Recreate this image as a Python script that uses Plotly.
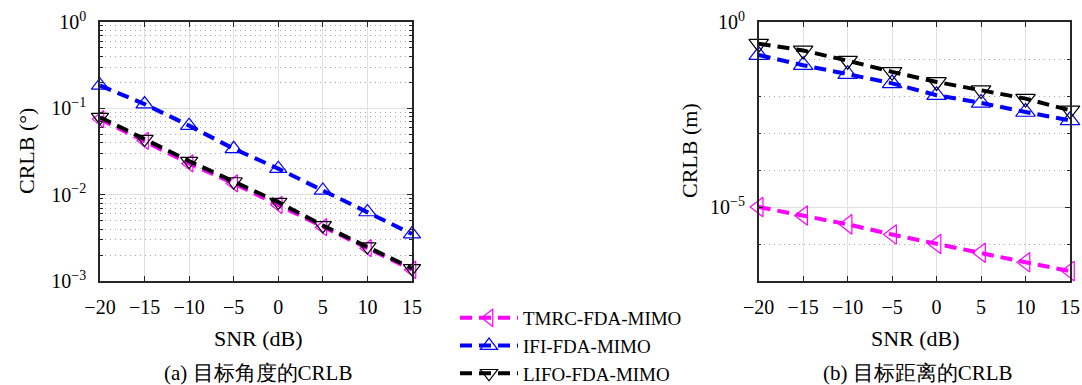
import plotly.graph_objects as go

# ---- data ----
snr = [-20, -15, -10, -5, 0, 5, 10, 15]
series_names = ["TMRC-FDA-MIMO", "IFI-FDA-MIMO", "LIFO-FDA-MIMO"]

# (a) angle CRLB (deg)
angle_tmrc = [0.075, 0.042, 0.023, 0.0135, 0.0076, 0.0042, 0.0024, 0.00135]
angle_ifi = [0.184, 0.112, 0.063, 0.034, 0.020, 0.0112, 0.0063, 0.0035]
angle_lifo = [0.079, 0.044, 0.0245, 0.0142, 0.0082, 0.0044, 0.0025, 0.0014]

# (b) range CRLB (m)
range_tmrc = [1.0e-5, 5.9e-6, 3.4e-6, 1.8e-6, 1.0e-6, 5.8e-7, 3.2e-7, 1.85e-7]
range_ifi = [0.128, 0.068, 0.039, 0.022, 0.0105, 0.0065, 0.0037, 0.0022]
range_lifo = [0.26, 0.17, 0.09, 0.045, 0.024, 0.0144, 0.0085, 0.0041]

x_ticks = [-20, -15, -10, -5, 0, 5, 10, 15]
x_ticktext = ["\u221220", "\u221215", "\u221210", "\u22125", "0", "5", "10", "15"]
ya_ticks = [1e-3, 1e-2, 1e-1, 1e0]
ya_ticktext = ["10<sup>\u22123</sup>", "10<sup>\u22122</sup>", "10<sup>\u22121</sup>", "10<sup>0</sup>"]
yb_ticks = [1e-5, 1e0]
yb_ticktext = ["10<sup>\u22125</sup>", "10<sup>0</sup>"]

colors = ["#FF00FF", "#0000FF", "#000000"]
symbols = ["triangle-left-open", "triangle-up-open", "triangle-down-open"]

FONT = "Liberation Serif, serif"

fig = go.Figure()

for i, (name, ya) in enumerate(zip(series_names, [angle_tmrc, angle_ifi, angle_lifo])):
    fig.add_trace(go.Scatter(
        x=snr, y=ya, name=name, mode="lines+markers",
        line=dict(color=colors[i], width=4, dash="12px,7px"),
        marker=dict(symbol=symbols[i], size=15, color=colors[i], line=dict(width=1.2, color=colors[i])),
        cliponaxis=False, xaxis="x", yaxis="y", showlegend=True,
    ))
for i, (name, yb) in enumerate(zip(series_names, [range_tmrc, range_ifi, range_lifo])):
    fig.add_trace(go.Scatter(
        x=snr, y=yb, name=name, mode="lines+markers",
        line=dict(color=colors[i], width=4, dash="12px,7px"),
        marker=dict(symbol=symbols[i], size=17, color=colors[i], line=dict(width=1.2, color=colors[i])),
        cliponaxis=False, xaxis="x2", yaxis="y2", showlegend=False,
    ))

axis_common = dict(
    showline=True, linecolor="#262626", linewidth=1.5, mirror="ticks",
    ticks="inside", ticklen=5, tickcolor="#262626",
    tickfont=dict(family=FONT, size=20, color="#000000"),
    zeroline=False, automargin=False,
)

minor_grid = dict(showgrid=True, gridcolor="#a8a8a8", griddash="1px,4px", gridwidth=1,
                  ticks="inside", ticklen=3, tickcolor="#262626")

y_dom = [1 - 281 / 385, 1 - 22 / 385]

fig.update_layout(
    template="none",
    width=1082, height=385,
    margin=dict(l=0, r=0, t=0, b=0, pad=0, autoexpand=False),
    paper_bgcolor="white", plot_bgcolor="white",
    font=dict(family=FONT, color="#000000"),
    xaxis=dict(domain=[100 / 1082, 412 / 1082], range=[-20, 15],
               tickmode="array", tickvals=x_ticks, ticktext=x_ticktext,
               showgrid=True, gridcolor="#e0e0e0", gridwidth=1, anchor="y",
               ticklabelstandoff=7, **axis_common),
    yaxis=dict(domain=y_dom, type="log", range=[-3, 0],
               tickmode="array", tickvals=ya_ticks, ticktext=ya_ticktext,
               showgrid=True, gridcolor="#e0e0e0", gridwidth=1, anchor="x",
               ticklabelstandoff=8,
               minor=dict(tickvals=[k * 10.0 ** e for e in (-3, -2, -1) for k in range(2, 10)],
                          **minor_grid),
               **axis_common),
    xaxis2=dict(domain=[758.7 / 1082, 1070 / 1082], range=[-20, 15],
                tickmode="array", tickvals=x_ticks, ticktext=x_ticktext,
                showgrid=True, gridcolor="#e0e0e0", gridwidth=1, anchor="y2",
                ticklabelstandoff=7, **axis_common),
    yaxis2=dict(domain=y_dom, type="log", range=[-7, 0],
                tickmode="array", tickvals=yb_ticks, ticktext=yb_ticktext,
                showgrid=True, gridcolor="#e0e0e0", gridwidth=1, anchor="x2",
                ticklabelstandoff=8,
                minor=dict(tickvals=[1e-7, 1e-6, 1e-4, 1e-3, 1e-2, 1e-1], **minor_grid),
                **axis_common),
    legend=dict(x=455 / 1082, xanchor="left", y=1 - 299 / 385, yanchor="top",
                bgcolor="rgba(0,0,0,0)", font=dict(family=FONT, size=19, color="#000000"),
                itemwidth=58, tracegroupgap=0, itemsizing="trace"),
    annotations=[
        dict(text="CRLB (\u00b0)", x=26 / 1082, y=1 - 151 / 385, xref="paper", yref="paper",
             textangle=-90, showarrow=False, font=dict(family=FONT, size=22),
             xanchor="center", yanchor="middle"),
        dict(text="CRLB (m)", x=689 / 1082, y=1 - 151 / 385, xref="paper", yref="paper",
             textangle=-90, showarrow=False, font=dict(family=FONT, size=22),
             xanchor="center", yanchor="middle"),
        dict(text="SNR (dB)", x=258 / 1082, y=1 - 338 / 385, xref="paper", yref="paper",
             showarrow=False, font=dict(family=FONT, size=22), xanchor="center", yanchor="middle"),
        dict(text="SNR (dB)", x=916 / 1082, y=1 - 338 / 385, xref="paper", yref="paper",
             showarrow=False, font=dict(family=FONT, size=22), xanchor="center", yanchor="middle"),
        dict(text="(a) 目标角度的CRLB", x=258 / 1082, y=1 - 373 / 385, xref="paper", yref="paper",
             showarrow=False, font=dict(family=FONT, size=21), xanchor="center", yanchor="middle"),
        dict(text="(b) 目标距离的CRLB", x=918 / 1082, y=1 - 373 / 385, xref="paper", yref="paper",
             showarrow=False, font=dict(family=FONT, size=21), xanchor="center", yanchor="middle"),
    ],
)

fig.write_html(
    "out.html",
    config={"displayModeBar": False},
    post_script="document.body.style.margin='0';document.body.style.overflow='hidden';",
)
